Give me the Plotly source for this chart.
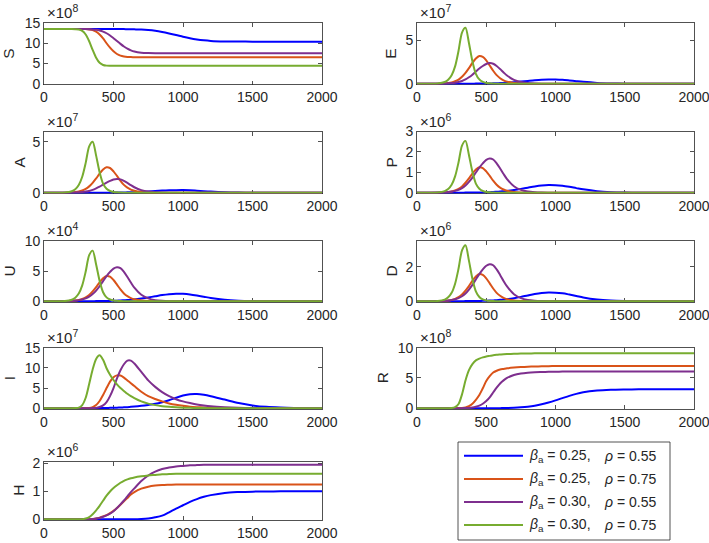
import plotly.graph_objects as go

# ---------------- data ----------------
t = [0, 100, 150, 200, 225, 250, 275, 300, 325, 350, 375, 400, 425, 450, 475, 500, 525, 550, 575, 600,
     625, 650, 700, 750, 800, 850, 900, 950, 1000, 1050, 1100, 1150, 1200, 1300, 1400, 1500, 1600, 1700, 1800, 2000]

series_names = ["β_a = 0.25, ρ = 0.55", "β_a = 0.25, ρ = 0.75", "β_a = 0.30, ρ = 0.55", "β_a = 0.30, ρ = 0.75"]
legend_beta = ["0.25", "0.25", "0.30", "0.30"]
legend_rho = ["0.55", "0.75", "0.55", "0.75"]
colors = ["#0000FF", "#D95319", "#7E2F8E", "#77AC30"]

# S (x1e8)
S_b = [13.5]*16 + [13.49, 13.49, 13.49, 13.48, 13.47, 13.44, 13.37, 13.25, 13.06, 12.78, 12.43, 12.04, 11.62, 11.25,
                   10.95, 10.72, 10.57, 10.44, 10.41, 10.4, 10.4, 10.4, 10.4, 10.4]
S_o = [13.5]*8 + [13.42, 13.25, 12.85, 12.15, 11.2, 10.0, 8.9, 8.0, 7.35, 6.95, 6.75, 6.63, 6.58, 6.55] + [6.53]*18
S_p = [13.5]*8 + [13.47, 13.42, 13.32, 13.15, 12.88, 12.47, 11.92, 11.25, 10.55, 9.85, 9.2, 8.65, 8.25, 7.97,
                  7.68, 7.59, 7.56] + [7.55]*15
S_g = [13.5, 13.5, 13.5, 13.49, 13.46, 13.39, 13.06, 12.17, 10.5, 8.36, 6.42, 5.17, 4.64, 4.48, 4.45, 4.44] + [4.43]*24

# E (x1e7)
E_b = [0, 0, 0.001, 0.002, 0.003, 0.004, 0.005, 0.006, 0.007, 0.009, 0.011, 0.014, 0.017, 0.02, 0.025, 0.03, 0.038,
       0.05, 0.065, 0.08, 0.1, 0.12, 0.18, 0.25, 0.33, 0.41, 0.47, 0.5, 0.49, 0.45, 0.38, 0.3, 0.22, 0.1, 0.04, 0.015,
       0.005, 0.002, 0, 0]
E_o = [0, 0, 0.01, 0.05, 0.09, 0.16, 0.29, 0.48, 0.8, 1.25, 1.8, 2.4, 2.9, 3.2, 3.1, 2.7, 2.1, 1.5, 0.99, 0.64,
       0.4, 0.25, 0.1, 0.04, 0.016, 0.006] + [0]*14
E_p = [0, 0, 0.01, 0.03, 0.05, 0.08, 0.13, 0.2, 0.32, 0.5, 0.75, 1.05, 1.4, 1.75, 2.05, 2.28, 2.38, 2.31, 2.05, 1.69,
       1.31, 0.95, 0.45, 0.2, 0.08, 0.03, 0.01] + [0]*13
E_g = [0, 0, 0.03, 0.2, 0.46, 0.98, 2.0, 3.8, 5.9, 6.45, 4.7, 2.6, 1.15, 0.5, 0.22, 0.1, 0.05, 0.02, 0.01, 0.005,
       0, 0] + [0]*18

# A (x1e7)
A_b = [0, 0, 0, 0.001, 0.0013, 0.0018, 0.0023, 0.003, 0.0036, 0.0047, 0.0057, 0.007, 0.0086, 0.01, 0.013, 0.016,
       0.02, 0.026, 0.034, 0.042, 0.052, 0.062, 0.094, 0.13, 0.17, 0.21, 0.24, 0.255, 0.26, 0.24, 0.2, 0.156, 0.114,
       0.052, 0.021, 0.008, 0.003, 0.001, 0, 0]
A_o = [0, 0, 0.008, 0.04, 0.07, 0.125, 0.225, 0.375, 0.625, 0.975, 1.4, 1.875, 2.275, 2.5, 2.425, 2.1, 1.65, 1.175,
       0.775, 0.5, 0.31, 0.195, 0.075, 0.03, 0.012, 0.005, 0] + [0]*13
A_p = [0, 0, 0.005, 0.018, 0.03, 0.046, 0.074, 0.113, 0.18, 0.28, 0.425, 0.594, 0.8, 0.99, 1.16, 1.3, 1.35, 1.31,
       1.16, 0.96, 0.74, 0.54, 0.26, 0.113, 0.046, 0.018, 0.005, 0] + [0]*12
A_g = [0, 0, 0.025, 0.15, 0.35, 0.76, 1.57, 2.93, 4.55, 5.0, 3.64, 2.02, 0.9, 0.39, 0.17, 0.08, 0.04, 0.015, 0.008,
       0.004, 0, 0] + [0]*18

# P (x1e6)
P_b = [0, 0, 0.001, 0.0015, 0.002, 0.0027, 0.0034, 0.004, 0.005, 0.007, 0.008, 0.01, 0.0125, 0.015, 0.019, 0.023,
       0.029, 0.038, 0.049, 0.061, 0.076, 0.091, 0.137, 0.19, 0.25, 0.31, 0.357, 0.38, 0.372, 0.342, 0.29, 0.228,
       0.167, 0.076, 0.03, 0.011, 0.004, 0.001, 0, 0]
P_o = [0, 0, 0.004, 0.02, 0.035, 0.063, 0.113, 0.19, 0.31, 0.49, 0.7, 0.94, 1.14, 1.25, 1.21, 1.05, 0.83, 0.59,
       0.39, 0.25, 0.16, 0.1, 0.04, 0.015, 0.006, 0.003, 0] + [0]*13
P_p = [0, 0, 0.007, 0.022, 0.037, 0.057, 0.092, 0.14, 0.225, 0.35, 0.53, 0.74, 0.99, 1.23, 1.44, 1.61, 1.68, 1.63,
       1.44, 1.19, 0.92, 0.67, 0.32, 0.14, 0.057, 0.022, 0.007, 0.002, 0] + [0]*11
P_g = [0, 0, 0.013, 0.077, 0.18, 0.39, 0.8, 1.49, 2.31, 2.54, 1.85, 1.03, 0.45, 0.2, 0.087, 0.04, 0.02, 0.008,
       0.004, 0.002, 0, 0] + [0]*18

# U (x1e4)
U_b = [0, 0, 0.003, 0.005, 0.006, 0.009, 0.011, 0.014, 0.018, 0.023, 0.028, 0.034, 0.042, 0.05, 0.063, 0.076,
       0.095, 0.126, 0.164, 0.2, 0.25, 0.3, 0.45, 0.63, 0.83, 1.03, 1.18, 1.26, 1.23, 1.13, 0.96, 0.76, 0.55, 0.25,
       0.1, 0.038, 0.013, 0.004, 0.001, 0]
U_o = [0, 0, 0.013, 0.067, 0.12, 0.21, 0.38, 0.63, 1.05, 1.64, 2.35, 3.15, 3.82, 4.2, 4.07, 3.53, 2.77, 1.97, 1.3,
       0.84, 0.53, 0.33, 0.13, 0.05, 0.021, 0.008, 0] + [0]*13
U_p = [0, 0, 0.023, 0.074, 0.125, 0.19, 0.31, 0.48, 0.76, 1.19, 1.78, 2.49, 3.34, 4.16, 4.87, 5.43, 5.66, 5.49,
       4.87, 4.02, 3.11, 2.26, 1.08, 0.48, 0.19, 0.074, 0.023, 0.006, 0] + [0]*11
U_g = [0, 0, 0.04, 0.26, 0.6, 1.28, 2.64, 4.93, 7.65, 8.4, 6.1, 3.4, 1.5, 0.65, 0.29, 0.13, 0.068, 0.026, 0.013,
       0.007, 0, 0] + [0]*18

# D (x1e6)
D_b = [0, 0, 0.001, 0.002, 0.0026, 0.0036, 0.0046, 0.0056, 0.007, 0.009, 0.011, 0.014, 0.017, 0.02, 0.026, 0.031,
       0.038, 0.051, 0.066, 0.082, 0.1, 0.12, 0.18, 0.255, 0.34, 0.42, 0.48, 0.51, 0.5, 0.46, 0.39, 0.31, 0.22, 0.1,
       0.04, 0.015, 0.005, 0.002, 0, 0]
D_o = [0, 0, 0.005, 0.025, 0.044, 0.079, 0.14, 0.24, 0.4, 0.62, 0.88, 1.19, 1.44, 1.58, 1.53, 1.33, 1.04, 0.74,
       0.49, 0.32, 0.2, 0.12, 0.047, 0.019, 0.008, 0.003, 0] + [0]*13
D_p = [0, 0, 0.009, 0.028, 0.047, 0.073, 0.118, 0.18, 0.29, 0.45, 0.68, 0.95, 1.27, 1.58, 1.85, 2.06, 2.15, 2.09,
       1.85, 1.53, 1.18, 0.86, 0.41, 0.18, 0.073, 0.028, 0.009, 0.002, 0] + [0]*11
D_g = [0, 0, 0.016, 0.1, 0.23, 0.49, 1.02, 1.9, 2.95, 3.25, 2.36, 1.31, 0.58, 0.25, 0.11, 0.05, 0.026, 0.01, 0.005,
       0.003, 0, 0] + [0]*18

# I (x1e7)
I_b = [0, 0, 0.005, 0.01, 0.015, 0.02, 0.025, 0.03, 0.035, 0.04, 0.045, 0.05, 0.06, 0.08, 0.1, 0.12, 0.15, 0.18,
       0.23, 0.28, 0.35, 0.42, 0.6, 0.83, 1.1, 1.5, 2.0, 2.6, 3.15, 3.5, 3.55, 3.35, 3.0, 2.15, 1.3, 0.7, 0.35, 0.17,
       0.08, 0.02]
I_o = [0, 0, 0, 0, 0, 0.01, 0.02, 0.04, 0.1, 0.3, 0.8, 1.8, 3.3, 5.0, 6.6, 7.7, 8.15, 8.1, 7.6, 6.9, 6.2, 5.5,
       4.1, 3.0, 2.3, 1.7, 1.2, 0.85, 0.6, 0.4, 0.28, 0.19, 0.13, 0.06, 0.025, 0.01, 0, 0, 0, 0]
I_p = [0, 0, 0, 0, 0, 0, 0.01, 0.02, 0.03, 0.05, 0.1, 0.3, 0.7, 1.5, 3.0, 5.0, 7.4, 9.4, 10.9, 11.8, 11.8, 11.1,
       9.0, 6.9, 5.3, 4.0, 3.0, 2.25, 1.7, 1.3, 0.95, 0.7, 0.5, 0.27, 0.13, 0.06, 0.03, 0.01, 0, 0]
I_g = [0, 0, 0, 0.02, 0.06, 0.15, 0.8, 2.6, 6.0, 9.6, 12.2, 13.1, 12.0, 9.9, 8.3, 7.0, 5.9, 5.0, 4.3, 3.6, 3.0,
       2.5, 1.7, 1.15, 0.78, 0.52, 0.35, 0.23, 0.15, 0.1, 0.065, 0.04, 0.027, 0.012, 0.005, 0.002, 0, 0, 0, 0]

# R (x1e8)
R_b = [0]*16 + [0.005, 0.01, 0.015, 0.02, 0.03, 0.04, 0.08, 0.15, 0.26, 0.42, 0.65, 0.95, 1.3, 1.68, 2.05, 2.38,
                2.63, 2.92, 3.05, 3.1, 3.12, 3.13, 3.14, 3.14]
R_o = [0, 0, 0, 0, 0, 0.01, 0.02, 0.03, 0.05, 0.15, 0.35, 0.75, 1.4, 2.2, 3.3, 4.5, 5.3, 5.9, 6.2, 6.4, 6.5, 6.6,
       6.72, 6.8, 6.86, 6.9, 6.93, 6.95, 6.97, 6.97] + [6.97]*10
R_p = [0, 0, 0, 0, 0, 0, 0, 0.01, 0.02, 0.03, 0.05, 0.12, 0.25, 0.45, 0.75, 1.2, 1.8, 2.6, 3.4, 4.1, 4.6, 5.0, 5.5,
       5.75, 5.88, 5.95, 5.99, 6.02, 6.04, 6.06] + [6.06]*10
R_g = [0, 0, 0, 0.01, 0.02, 0.05, 0.2, 0.7, 2.3, 4.6, 6.3, 7.3, 7.9, 8.2, 8.4, 8.55, 8.65, 8.75, 8.82, 8.87, 8.92,
       8.95, 9.0, 9.03, 9.05, 9.07, 9.08, 9.1, 9.1, 9.1] + [9.1]*10

# H (x1e6)
H_b = [0]*22 + [0.01, 0.03, 0.07, 0.13, 0.25, 0.38, 0.5, 0.62, 0.72, 0.8, 0.86, 0.94, 0.97, 0.985, 0.99, 0.995,
                1.0, 1.0]
H_o = [0]*9 + [0.01, 0.03, 0.06, 0.1, 0.15, 0.22, 0.3, 0.4, 0.52, 0.64, 0.76, 0.88, 0.97, 1.09, 1.16, 1.2, 1.22,
               1.23, 1.24, 1.24, 1.24] + [1.24]*10
H_p = [0]*9 + [0.01, 0.03, 0.05, 0.09, 0.14, 0.2, 0.29, 0.4, 0.53, 0.67, 0.82, 0.97, 1.1, 1.36, 1.56, 1.7, 1.79,
               1.84, 1.88, 1.9, 1.92, 1.93, 1.94, 1.94] + [1.94]*7
H_g = [0]*6 + [0.0, 0.03, 0.08, 0.18, 0.32, 0.48, 0.66, 0.84, 0.99, 1.11, 1.21, 1.3, 1.37, 1.42, 1.46, 1.49,
               1.53, 1.56, 1.58, 1.6, 1.61, 1.62, 1.62, 1.62, 1.62] + [1.62]*9

panel_labels = ["S", "E", "A", "P", "U", "D", "I", "R", "H"]
panel_exponents = [8, 7, 7, 6, 4, 6, 7, 8, 6]
panel_ymax = [15, 7, 6, 3, 10, 3.5, 15, 10, 2.05]
panel_ticks = [[0, 5, 10, 15], [0, 5], [0, 5], [0, 1, 2, 3], [0, 5, 10], [0, 2], [0, 5, 10, 15], [0, 5, 10],
               [0, 1, 2]]
panel_data = [
    [S_b, S_o, S_p, S_g], [E_b, E_o, E_p, E_g], [A_b, A_o, A_p, A_g], [P_b, P_o, P_p, P_g],
    [U_b, U_o, U_p, U_g], [D_b, D_o, D_p, D_g], [I_b, I_o, I_p, I_g], [R_b, R_o, R_p, R_g],
    [H_b, H_o, H_p, H_g],
]
x_ticks = [0, 500, 1000, 1500, 2000]

# ---------------- layout geometry (pixels in a 709x543 figure) ----------------
W, H = 709, 543
col_px = [(44, 322), (417, 694)]
row_px = [(23, 84.5), (131.5, 193.5), (241, 302), (347.7, 409), (461.7, 520)]
ink = "#262626"
font_family = "Liberation Sans, Arial, Helvetica, sans-serif"

fig = go.Figure()
layout = dict(
    width=W, height=H, margin=dict(l=0, r=0, t=0, b=0, autoexpand=False),
    paper_bgcolor="white", plot_bgcolor="white", showlegend=False,
    font=dict(family=font_family, size=14, color=ink),
)
annotations = []
shapes = []

for k in range(9):
    r, c = divmod(k, 2)
    x0, x1 = col_px[c]
    yt, yb = row_px[r]
    ax = "" if k == 0 else str(k + 1)
    for s in range(4):
        fig.add_trace(go.Scatter(
            x=t, y=panel_data[k][s], mode="lines", name=series_names[s],
            line=dict(color=colors[s], width=2, shape="spline", smoothing=0.8),
            xaxis="x" + ax, yaxis="y" + ax, hoverinfo="skip"))
    ymax = panel_ymax[k]
    layout["xaxis" + ax] = dict(
        domain=[x0 / W, x1 / W], anchor="y" + ax, range=[0, 2000], tickvals=x_ticks, automargin=False,
        showline=True, mirror="ticks", linecolor=ink, linewidth=0.8, ticks="inside", ticklen=4,
        tickcolor=ink, tickwidth=0.8, showgrid=False, zeroline=False, layer="below traces",
        ticklabeloverflow="allow", tickfont=dict(size=14, color=ink))
    layout["yaxis" + ax] = dict(
        domain=[1 - yb / H, 1 - yt / H], anchor="x" + ax, range=[-0.012 * ymax, ymax], automargin=False,
        tickvals=panel_ticks[k], showline=True, mirror="ticks", linecolor=ink, linewidth=0.8,
        ticks="inside", ticklen=4, tickcolor=ink, tickwidth=0.8, showgrid=False, zeroline=False,
        layer="below traces", ticklabeloverflow="allow", tickfont=dict(size=14, color=ink))
    # exponent label
    annotations.append(dict(
        xref="paper", yref="paper", x=(x0 + 1) / W, y=1 - yt / H, xanchor="left", yanchor="bottom",
        text="×10<sup>%d</sup>" % panel_exponents[k], showarrow=False, yshift=0,
        font=dict(size=15, color=ink)))
    # y label
    two_digit = max(panel_ticks[k]) >= 10
    lx = (9 if two_digit else 19) if c == 0 else (382 if two_digit else 391)
    annotations.append(dict(
        xref="paper", yref="paper", x=lx / W, y=1 - (yt + yb) / 2 / H, xanchor="center", yanchor="middle",
        text=panel_labels[k], textangle=-90, showarrow=False, font=dict(size=15.5, color=ink)))

# legend box (drawn in the empty bottom-right cell)
shapes.append(dict(type="rect", xref="paper", yref="paper", x0=458 / W, x1=670 / W, y0=1 - 540 / H,
                   y1=1 - 442 / H, line=dict(color=ink, width=0.8), fillcolor="white", layer="below"))
leg_y = [455.7, 479, 502, 525]
for s in range(4):
    yy = 1 - leg_y[s] / H
    shapes.append(dict(type="line", xref="paper", yref="paper", x0=464 / W, x1=523 / W, y0=yy, y1=yy,
                       line=dict(color=colors[s], width=2)))
    annotations.append(dict(
        xref="paper", yref="paper", x=527 / W, y=yy, xanchor="left", yanchor="middle", showarrow=False,
        text="<i>β</i><sub>a</sub> = %s," % legend_beta[s], font=dict(size=14, color=ink)))
    annotations.append(dict(
        xref="paper", yref="paper", x=602 / W, y=yy, xanchor="left", yanchor="middle", showarrow=False,
        text="<i>ρ</i> = %s" % legend_rho[s], font=dict(size=14, color=ink)))

layout["annotations"] = annotations
layout["shapes"] = shapes
fig.update_layout(**layout)
fig.write_html("out.html", config={"displayModeBar": False, "staticPlot": True},
               post_script="document.body.style.margin='0';document.body.style.overflow='hidden';")
